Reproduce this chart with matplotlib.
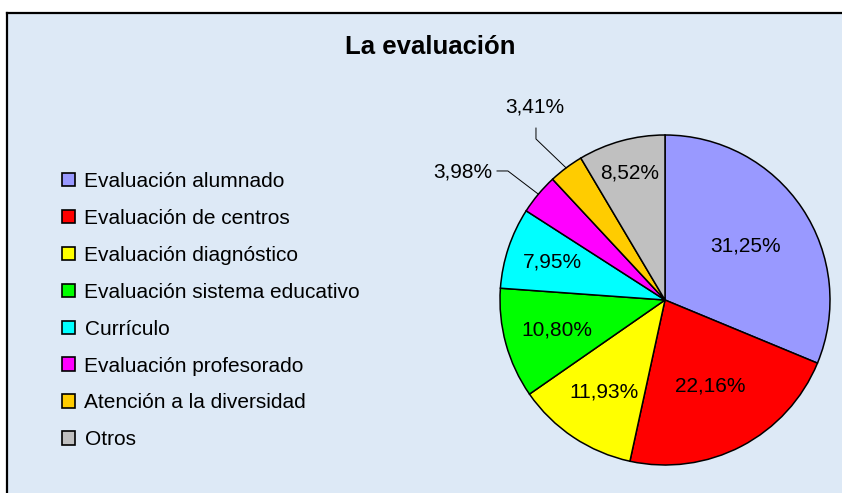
import matplotlib
matplotlib.use("Agg")
import matplotlib.pyplot as plt
from matplotlib.patches import Rectangle
import numpy as np

plt.rcParams['font.family'] = ['Liberation Sans', 'DejaVu Sans']

# datos
categorias = ["Evaluación alumnado", "Evaluación de centros", "Evaluación diagnóstico",
              "Evaluación sistema educativo", "Currículo", "Evaluación profesorado",
              "Atención a la diversidad", "Otros"]
porcentajes = [31.25, 22.16, 11.93, 10.80, 7.95, 3.98, 3.41, 8.52]
colores = ["#9999FF", "#FF0000", "#FFFF00", "#00FF00", "#00FFFF", "#FF00FF", "#FFCC00", "#C0C0C0"]

# distancia de cada etiqueta al centro (fracción del radio), None = fuera con línea
dist_etiq = [0.59, 0.59, 0.67, 0.68, 0.72, None, None, 0.80]

W, H = 842, 493
fig = plt.figure(figsize=(W / 100, H / 100), dpi=100)
fig.patch.set_facecolor("white")

# fondo del área del gráfico
x0, y0 = 7 / W, 1 - 13 / H
fig.patches.append(Rectangle((x0, -0.01), 1.02 - x0, y0 + 0.01, transform=fig.transFigure,
                             facecolor="#dde9f6", edgecolor="none", zorder=-5))
fig.add_artist(plt.Line2D([x0, 1.0], [y0, y0], transform=fig.transFigure, color="black",
                          lw=1.6, zorder=-4))
fig.add_artist(plt.Line2D([x0, x0], [0, y0], transform=fig.transFigure, color="black",
                          lw=1.6, zorder=-4))

# título
fig.text(430 / W, 1 - 47 / H, "La evaluación", ha="center", va="center",
         fontsize=18.5, fontweight="bold")

# tarta
cx, cy, r = 665, 300, 165
ax = fig.add_axes([(cx - r) / W, 1 - (cy + r) / H, 2 * r / W, 2 * r / H])
ax.set_facecolor("none")
wedges, _ = ax.pie(porcentajes, colors=colores, startangle=90, counterclock=False,
                   wedgeprops=dict(edgecolor="black", linewidth=1.1))
ax.set_xlim(-1, 1)
ax.set_ylim(-1, 1)
ax.set_aspect("equal")
ax.axis("off")

def etiqueta(v):
    return f"{v:.2f}%".replace(".", ",")

for w, v, d in zip(wedges, porcentajes, dist_etiq):
    ang = np.deg2rad((w.theta1 + w.theta2) / 2)
    if d is not None:
        ax.text(d * np.cos(ang), d * np.sin(ang), etiqueta(v), ha="center", va="center",
                fontsize=15)

# etiquetas exteriores con línea guía
w5, w6 = wedges[5], wedges[6]
a5 = np.deg2rad((w5.theta1 + w5.theta2) / 2)
a6 = np.deg2rad((w6.theta1 + w6.theta2) / 2)
ax.plot([-1.018, -0.952, np.cos(a5)], [0.782, 0.782, np.sin(a5)], color="black", lw=0.7,
        clip_on=False)
ax.text(-1.045, 0.776, etiqueta(porcentajes[5]), ha="right", va="center", fontsize=15)
ax.plot([-0.782, -0.782, np.cos(a6)], [1.042, 0.976, np.sin(a6)], color="black", lw=0.7,
        clip_on=False)
ax.text(-0.788, 1.17, etiqueta(porcentajes[6]), ha="center", va="center", fontsize=15)

# leyenda
handles = [Rectangle((0, 0), 1, 1, facecolor=c, edgecolor="black", linewidth=1.2) for c in colores]
fig.legend(handles, categorias, loc="upper left", bbox_to_anchor=(62 / W, 1 - 172 / H),
           frameon=False, fontsize=15, handlelength=0.63, handleheight=0.63,
           handletextpad=0.45, labelspacing=0.86, borderpad=0, borderaxespad=0)

fig.savefig("out.png", dpi=100, facecolor=fig.get_facecolor())
